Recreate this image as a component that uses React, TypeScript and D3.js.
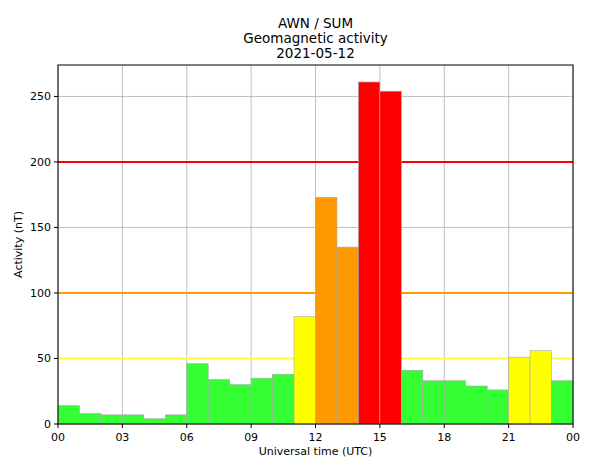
import * as d3 from "d3";

const hours = d3.range(24);
const activity = [
  14, 8, 7, 7, 4, 7, 46, 34, 30, 35, 38, 82, 173, 135, 261, 254, 41, 33, 33, 29,
  26, 51, 56, 33,
];
const levels = [50, 100, 200];
const levelColors = ["#ffff33", "#ff9900", "#ff0000"];
const xTickHours = [0, 3, 6, 9, 12, 15, 18, 21, 24];
const xTickLabels = ["00", "03", "06", "09", "12", "15", "18", "21", "00"];
const yTicks = [0, 50, 100, 150, 200, 250];
const titleLines = ["AWN / SUM", "Geomagnetic activity", "2021-05-12"];

const W = 597;
const H = 469;
const margin = { top: 65, right: 24, bottom: 45, left: 58 };
const font = "DejaVu Sans, sans-serif";

// colour of a bar depends on which threshold it passes
const barColor = (v: number) =>
  v >= 200 ? "#ff0000" : v >= 100 ? "#ff9900" : v >= 50 ? "#ffff00" : "#33ff33";

const App = () => {
  const x = d3
    .scaleLinear()
    .domain([0, 24])
    .range([margin.left, W - margin.right]);
  const y = d3
    .scaleLinear()
    .domain([0, 274])
    .range([H - margin.bottom, margin.top]);
  const cx = (margin.left + W - margin.right) / 2;

  return (
    <svg
      width={W}
      height={H}
      style={{ position: "absolute", left: 0, top: 0, background: "#fff" }}
      fontFamily={font}
    >
      {/* grid */}
      {xTickHours.map((h) => (
        <line
          key={"gx" + h}
          x1={x(h)}
          x2={x(h)}
          y1={y(274)}
          y2={y(0)}
          stroke="#b0b0b0"
          strokeWidth={0.8}
        />
      ))}
      {yTicks.map((t) => (
        <line
          key={"gy" + t}
          x1={x(0)}
          x2={x(24)}
          y1={y(t)}
          y2={y(t)}
          stroke="#b0b0b0"
          strokeWidth={0.8}
        />
      ))}
      {/* threshold lines */}
      {levels.map((l, i) => (
        <line
          key={"l" + l}
          x1={x(0)}
          x2={x(24)}
          y1={y(l)}
          y2={y(l)}
          stroke={levelColors[i]}
          strokeWidth={2}
        />
      ))}
      {/* bars */}
      {hours.map((h) => (
        <rect
          key={"b" + h}
          x={x(h)}
          y={y(activity[h])}
          width={x(h + 1) - x(h)}
          height={y(0) - y(activity[h])}
          fill={barColor(activity[h])}
          stroke="#a8a8a8"
          strokeWidth={0.6}
        />
      ))}
      {/* frame */}
      <rect
        x={x(0)}
        y={y(274)}
        width={x(24) - x(0)}
        height={y(0) - y(274)}
        fill="none"
        stroke="#000"
        strokeWidth={1}
      />
      {/* x ticks */}
      {xTickHours.map((h, i) => (
        <g key={"xt" + i}>
          <line x1={x(h)} x2={x(h)} y1={y(0)} y2={y(0) + 4} stroke="#000" />
          <text x={x(h)} y={y(0) + 17} fontSize={11} textAnchor="middle">
            {xTickLabels[i]}
          </text>
        </g>
      ))}
      {/* y ticks */}
      {yTicks.map((t) => (
        <g key={"yt" + t}>
          <line x1={x(0) - 4} x2={x(0)} y1={y(t)} y2={y(t)} stroke="#000" />
          <text
            x={x(0) - 7}
            y={y(t)}
            dy="0.35em"
            fontSize={11}
            textAnchor="end"
          >
            {t}
          </text>
        </g>
      ))}
      <text x={cx} y={455} fontSize={11} textAnchor="middle">
        Universal time (UTC)
      </text>
      <text
        transform={`translate(22,${(y(0) + y(274)) / 2}) rotate(-90)`}
        fontSize={11}
        textAnchor="middle"
      >
        Activity (nT)
      </text>
      {titleLines.map((t, i) => (
        <text key={t} x={cx} y={28 + i * 14.8} fontSize={13.5} textAnchor="middle">
          {t}
        </text>
      ))}
    </svg>
  );
};

export default App;
